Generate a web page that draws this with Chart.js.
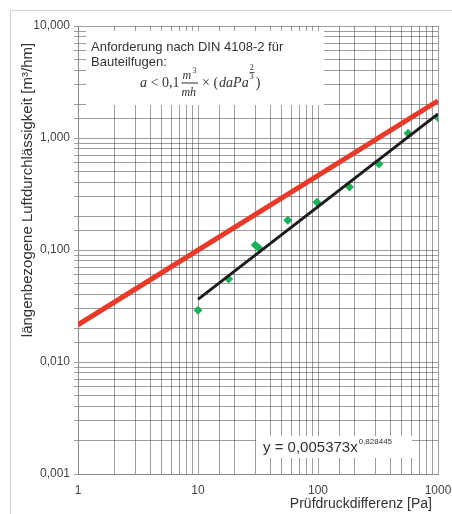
<!DOCTYPE html>
<html>
<head>
<meta charset="utf-8">
<script src="https://cdn.jsdelivr.net/npm/chart.js@4"></script>
<style>
  body { margin: 0; background: #fff; }
  #wrap { width: 452px; height: 514px; position: relative; }
</style>
</head>
<body>
<div id="wrap"><canvas id="luftChart"></canvas></div>
<script>
// Messwerte (Prüfdruckdifferenz [Pa] / Luftdurchlässigkeit [m³/hm])
var druck = [10, 18, 30, 32, 56, 98, 183, 322, 563, 1000];
var messwerte = [0.029, 0.055, 0.111, 0.105, 0.184, 0.267, 0.366, 0.585, 1.10, 1.52];

// Anforderung DIN 4108-2 (Endpunkte der roten Geraden)
var anfDruck = [1, 1000];
var anfWerte = [0.0215, 2.15];

// Ausgleichskurve (Endpunkte der schwarzen Geraden)
var fitDruck = [10, 1000];
var fitWerte = [0.0362, 1.64];

var xMajor = [1, 10, 100, 1000];
var yMajor = [0.001, 0.01, 0.1, 1, 10];

var xTitel = 'Prüfdruckdifferenz [Pa]';
var yTitel = 'längenbezogene Luftdurchlässigkeit [m³/hm]';

function toPoints(xs, ys) {
    return xs.map(function (x, i) { return { x: x, y: ys[i] }; });
}

function isMajor(v, list) {
    return list.some(function (m) { return Math.abs(v - m) / m < 1e-6; });
}

var SANS = '"Liberation Sans", Arial, sans-serif';
var SERIF = '"Liberation Serif", "DejaVu Serif", serif';

// schreibt Text und gibt die neue x-Position zurück
function put(ctx, txt, font, x, y) {
    ctx.font = font;
    ctx.fillText(txt, x, y);
    return x + ctx.measureText(txt).width;
}

var framePlugin = {
    id: 'framePlugin',
    beforeDraw: function (chart) {
        var ctx = chart.ctx;
        ctx.save();
        ctx.strokeStyle = '#d4d4d4';
        ctx.lineWidth = 1;
        ctx.beginPath();
        ctx.moveTo(10.5, 520);
        ctx.lineTo(10.5, 10.5);
        ctx.lineTo(460, 10.5);
        ctx.stroke();
        ctx.restore();
    }
};

var textPlugin = {
    id: 'textPlugin',
    afterDraw: function (chart) {
        var ctx = chart.ctx;
        var a = chart.chartArea;
        ctx.save();

        // Achsentitel
        ctx.fillStyle = '#333';
        ctx.font = '14px ' + SANS;
        ctx.textBaseline = 'middle';
        ctx.textAlign = 'right';
        ctx.fillText(xTitel, a.right - 6, 504);
        ctx.save();
        ctx.translate(28, 190);
        ctx.rotate(-Math.PI / 2);
        ctx.textAlign = 'center';
        ctx.font = '15px ' + SANS;
        ctx.fillText(yTitel, 0, 0);
        ctx.restore();
        ctx.textAlign = 'left';
        ctx.textBaseline = 'alphabetic';

        // Textfeld oben links
        ctx.fillStyle = '#fff';
        ctx.fillRect(a.left + 8, a.top + 5, 238, 74);
        ctx.fillStyle = '#333';
        ctx.font = '13px ' + SANS;
        ctx.fillText('Anforderung nach DIN 4108-2 für', a.left + 13, a.top + 25);
        ctx.fillText('Bauteilfugen:', a.left + 13, a.top + 40);

        var by = a.top + 61;
        var x = a.left + 62;
        x = put(ctx, 'a', 'italic 14px ' + SERIF, x, by);
        x = put(ctx, ' < 0,1', '14px ' + SERIF, x, by);
        // Bruch m³ / mh
        var fx = x + 2;
        ctx.font = 'italic 12px ' + SERIF;
        var fw = ctx.measureText('mh').width;
        put(ctx, 'm', 'italic 12px ' + SERIF, fx + 1, by - 8);
        put(ctx, '3', '8px ' + SERIF, fx + 11, by - 14);
        put(ctx, 'mh', 'italic 12px ' + SERIF, fx, by + 9);
        ctx.fillRect(fx, by - 4.5, fw + 2, 1);
        x = fx + fw + 6;
        x = put(ctx, '× (', '14px ' + SERIF, x, by);
        x = put(ctx, 'daPa', 'italic 14px ' + SERIF, x + 1, by);
        put(ctx, '2', '8px ' + SERIF, x + 1, by - 17);
        ctx.fillRect(x + 1, by - 15, 5, 0.8);
        put(ctx, '3', '8px ' + SERIF, x + 1, by - 8);
        put(ctx, ')', '14px ' + SERIF, x + 7, by);

        // Gleichung der Ausgleichskurve
        ctx.fillStyle = '#fff';
        ctx.fillRect(a.left + 178, a.bottom - 38, 156, 22);
        ctx.fillStyle = '#333';
        var ex = put(ctx, 'y = 0,005373x', '15px ' + SANS, a.left + 185, a.bottom - 22);
        put(ctx, '0,828445', '8px ' + SANS, ex + 1, a.bottom - 30);
        ctx.restore();
    }
};

var luftChart = new Chart(document.getElementById('luftChart').getContext('2d'), {
    type: 'scatter',
    data: {
        datasets: [{
            label: 'Anforderung',
            data: toPoints(anfDruck, anfWerte),
            showLine: true,
            borderColor: '#e63b2a',
            borderWidth: 5,
            pointRadius: 0,
            fill: false
        }, {
            label: 'Ausgleich',
            data: toPoints(fitDruck, fitWerte),
            showLine: true,
            borderColor: '#1c1c1c',
            borderWidth: 3,
            pointRadius: 0,
            fill: false
        }, {
            label: 'Messwerte',
            data: toPoints(druck, messwerte),
            pointStyle: 'rectRot',
            pointRadius: 4.5,
            backgroundColor: '#1fae5c',
            borderColor: '#1fae5c',
            borderWidth: 0
        }]
    },
    options: {
        responsive: true,
        maintainAspectRatio: false,
        animation: false,
        layout: { padding: { left: 20, right: 14, top: 26, bottom: 2 } },
        plugins: {
            legend: { display: false },
            tooltip: { enabled: false }
        },
        scales: {
            x: {
                type: 'logarithmic',
                min: 1,
                max: 1000,
                afterFit: function (s) { s.height = 38; s.paddingLeft = 0; s.paddingRight = 0; },
                grid: { color: 'rgba(60,60,60,0.5)', drawTicks: false },
                border: { color: '#888' },
                ticks: {
                    autoSkip: false,
                    maxRotation: 0,
                    padding: 9,
                    color: '#444',
                    font: { family: SANS, size: 12 },
                    callback: function (v) { return isMajor(v, xMajor) ? String(v) : ''; }
                }
            },
            y: {
                type: 'logarithmic',
                min: 0.001,
                max: 10,
                afterFit: function (s) { s.width = 58; },
                grid: { color: 'rgba(60,60,60,0.5)', tickLength: 4 },
                border: { color: '#888' },
                ticks: {
                    autoSkip: false,
                    padding: 4,
                    color: '#444',
                    font: { family: SANS, size: 12 },
                    callback: function (v) { return isMajor(v, yMajor) ? v.toFixed(3).replace('.', ',') : ''; }
                }
            }
        }
    },
    plugins: [framePlugin, textPlugin]
});
</script>
</body>
</html>
